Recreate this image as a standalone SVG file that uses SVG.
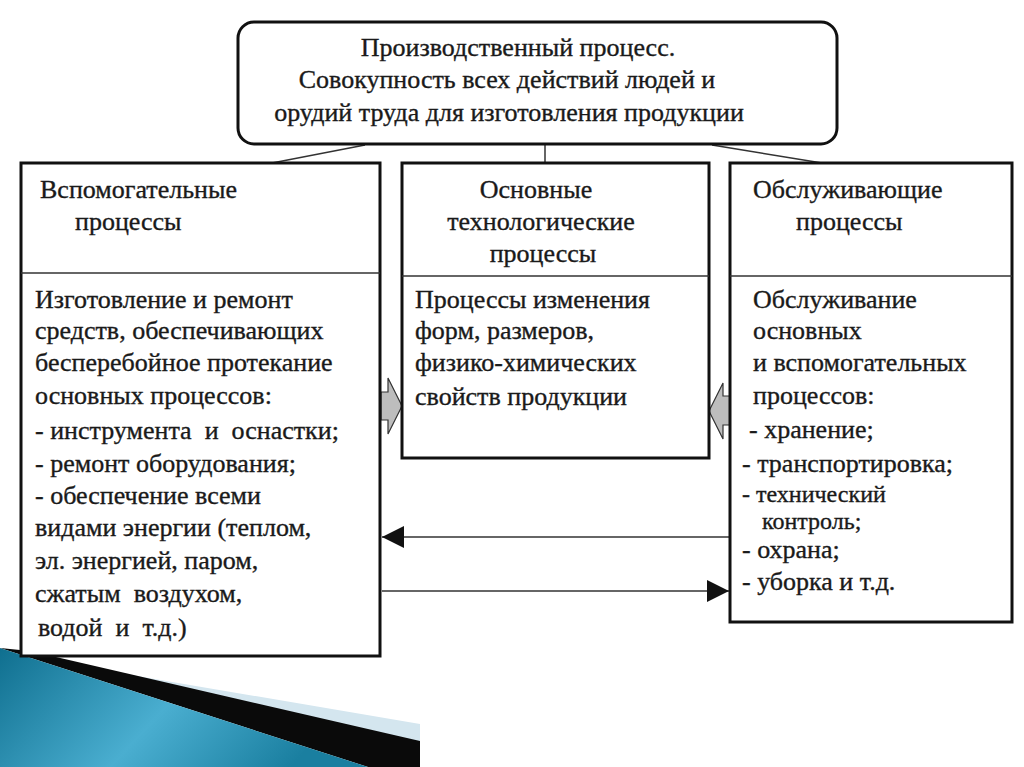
<svg xmlns="http://www.w3.org/2000/svg" width="1024" height="767" viewBox="0 0 1024 767">
<defs>
<style>
.box{fill:#fff;stroke:#111;stroke-width:3}
.div{stroke:#333;stroke-width:1.5}
.t{font-family:"Liberation Serif","Times New Roman",serif;font-size:26px;fill:#1a1a1a;stroke:#1a1a1a;stroke-width:0.35}
.s{font-size:24px}
.c{stroke:#333;stroke-width:1.5;fill:none}
.blk{fill:#bdbdbd;stroke:#333;stroke-width:1.2}
</style>
<linearGradient id="bg" x1="0" y1="0" x2="1" y2="0.3">
<stop offset="0" stop-color="#0f6f8f"/>
<stop offset="0.55" stop-color="#4aaed0"/>
<stop offset="1" stop-color="#1a7fa0"/>
</linearGradient>
<marker id="ah" viewBox="0 0 10 10" refX="10" refY="5" markerWidth="22" markerHeight="22" markerUnits="userSpaceOnUse" orient="auto">
<path d="M0,0 L10,5 L0,10 Z" fill="#111"/>
</marker>
</defs>
<rect width="1024" height="767" fill="#fff"/>
<g id="decor">
<polygon points="90,668 420,724 420,745" fill="#d4e6ef"/>
<polygon points="0,648 30,651 420,741 420,767 368,767" fill="#0a0a0a"/>
<polygon points="0,648 368,767 0,767" fill="url(#bg)"/>
</g>
<g id="connectors">
<line class="c" x1="365" y1="145" x2="272" y2="163"/>
<line class="c" x1="545" y1="145" x2="545" y2="163"/>
<line class="c" x1="712" y1="145" x2="822" y2="163"/>
<polygon class="blk" points="381,392 388,392 388,378 402,406 388,434 388,420 381,420"/>
<polygon class="blk" points="730,396 723,396 723,383 709,411 723,439 723,425 730,425"/>
<line class="c" x1="730" y1="537" x2="382" y2="537" marker-end="url(#ah)"/>
<line class="c" x1="382" y1="591" x2="729" y2="591" marker-end="url(#ah)"/>
</g>
<g id="top">
<rect class="box" x="238" y="22" width="599" height="122" rx="16"/>
<text class="t" x="518" y="56" text-anchor="middle">Производственный процесс.</text>
<text class="t" x="507" y="88" text-anchor="middle">Совокупность всех действий людей и</text>
<text class="t" x="509" y="121" text-anchor="middle">орудий труда для изготовления продукции</text>
</g>
<g id="aux">
<rect class="box" x="21" y="163" width="359" height="493"/>
<line class="div" x1="21" y1="273" x2="380" y2="273"/>
<text class="t" x="40" y="198">Вспомогательные</text>
<text class="t" x="75" y="230">процессы</text>
<text class="t" x="35" y="308">Изготовление и ремонт</text>
<text class="t" x="35" y="339">средств, обеспечивающих</text>
<text class="t" x="35" y="371">бесперебойное протекание</text>
<text class="t" x="35" y="404">основных процессов:</text>
<text class="t" x="35" y="439" xml:space="preserve">- инструмента  и  оснастки;</text>
<text class="t" x="35" y="472">- ремонт оборудования;</text>
<text class="t" x="35" y="504">- обеспечение всеми</text>
<text class="t" x="35" y="536">видами энергии (теплом,</text>
<text class="t" x="35" y="569">эл. энергией, паром,</text>
<text class="t" x="35" y="602" xml:space="preserve">сжатым  воздухом,</text>
<text class="t" x="38" y="636" xml:space="preserve">водой  и  т.д.)</text>
</g>
<g id="main">
<rect class="box" x="402" y="163" width="307" height="295"/>
<line class="div" x1="402" y1="276" x2="709" y2="276"/>
<text class="t" x="536" y="198" text-anchor="middle">Основные</text>
<text class="t" x="541" y="230" text-anchor="middle">технологические</text>
<text class="t" x="543" y="262" text-anchor="middle">процессы</text>
<text class="t" x="415" y="308">Процессы изменения</text>
<text class="t" x="415" y="339">форм, размеров,</text>
<text class="t" x="415" y="371">физико-химических</text>
<text class="t" x="415" y="405">свойств продукции</text>
</g>
<g id="service">
<rect class="box" x="730" y="163" width="282" height="459"/>
<line class="div" x1="730" y1="276" x2="1012" y2="276"/>
<text class="t" x="753" y="198">Обслуживающие</text>
<text class="t" x="796" y="230">процессы</text>
<text class="t" x="753" y="308">Обслуживание</text>
<text class="t" x="753" y="339">основных</text>
<text class="t" x="753" y="371">и вспомогательных</text>
<text class="t" x="753" y="404">процессов:</text>
<text class="t" x="749" y="438">- хранение;</text>
<text class="t" x="742" y="472">- транспортировка;</text>
<text class="t s" x="742" y="502">- технический</text>
<text class="t s" x="762" y="529">контроль;</text>
<text class="t" x="742" y="558">- охрана;</text>
<text class="t" x="742" y="590">- уборка и т.д.</text>
</g>
</svg>
